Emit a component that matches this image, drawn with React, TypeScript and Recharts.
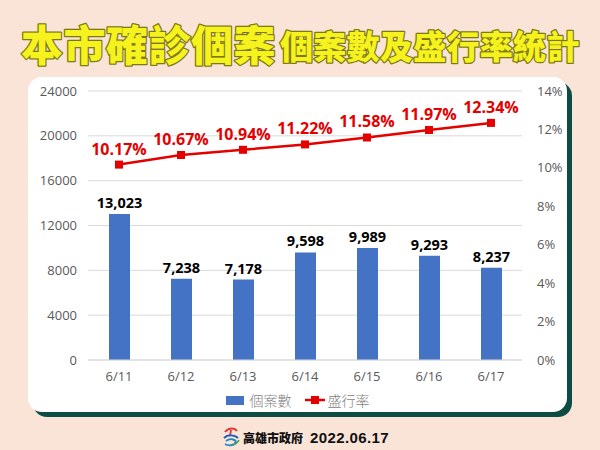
import {
  Bar,
  CartesianGrid,
  ComposedChart,
  LabelList,
  Legend,
  Line,
  XAxis,
  YAxis,
} from 'recharts'

const dates = ['6/11', '6/12', '6/13', '6/14', '6/15', '6/16', '6/17']
const cases = [13023, 7238, 7178, 9598, 9989, 9293, 8237]
const rates = [10.17, 10.67, 10.94, 11.22, 11.58, 11.97, 12.34]
const caseTicks = [0, 4000, 8000, 12000, 16000, 20000, 24000]
const rateTicks = [0, 2, 4, 6, 8, 10, 12, 14]

const data = dates.map((d, i) => ({ date: d, cases: cases[i], rate: rates[i] }))

const BLUE = '#4472C4'
const RED = '#E50000'
const TICK = { fill: '#595959', fontSize: 13, fontFamily: 'Open Sans' }

function SquareDot(props: any) {
  const { cx, cy, index } = props
  if (cx == null || cy == null) return null
  return <rect key={`dot-${index}`} x={cx - 4} y={cy - 4} width={8} height={8} fill={RED} />
}

function LegendBox() {
  const txt = { color: '#7f7f7f', fontSize: 14, fontFamily: 'Noto Sans CJK TC', fontWeight: 300 }
  return (
    <div style={{ display: 'flex', justifyContent: 'center', alignItems: 'center', height: 16, gap: 6 }}>
      <span style={{ display: 'inline-block', width: 18, height: 9, background: BLUE }} />
      <span style={txt}>個案數</span>
      <svg width={22} height={10} style={{ marginLeft: 6 }}>
        <line x1={1} y1={5} x2={21} y2={5} stroke={RED} strokeWidth={2.5} />
        <rect x={7} y={1} width={8} height={8} fill={RED} />
      </svg>
      <span style={{ ...txt, marginLeft: -4 }}>盛行率</span>
    </div>
  )
}

function Logo() {
  return (
    <svg width={18} height={20} viewBox="0 0 18 20">
      <path d="M3 5 C7 0, 13 1, 15 4" stroke="#E53935" strokeWidth={2} fill="none" />
      <path d="M9 3 L8 9" stroke="#E53935" strokeWidth={1.8} fill="none" />
      <path d="M2 11 C6 7, 13 8, 16 11" stroke="#1E5BB8" strokeWidth={2} fill="none" />
      <path d="M4 14 C8 11, 13 12, 14 15 C12 19, 6 19, 3 17" stroke="#1E88C8" strokeWidth={1.8} fill="none" />
      <path d="M11 18 C14 17, 16 15, 17 13" stroke="#43A047" strokeWidth={1.6} fill="none" />
    </svg>
  )
}

export default function App() {
  return (
    <div
      style={{
        position: 'absolute',
        left: 0,
        top: 0,
        width: 600,
        height: 450,
        background: '#FAE4D8',
        overflow: 'hidden',
      }}
    >
      <svg width={600} height={75} style={{ position: 'absolute', left: 0, top: 0 }}>
        <g
          fontFamily="Noto Sans CJK TC"
          fontWeight={900}
          fill="#F6F21E"
          stroke="#7C7812"
          strokeWidth={2.5}
          strokeLinejoin="round"
          style={{ paintOrder: 'stroke' }}
        >
          <text x={21} y={61} fontSize={42} letterSpacing={0.5}>
            本市確診個案
          </text>
          <text x={280} y={59} fontSize={33} letterSpacing={0.3}>
            個案數及盛行率統計
          </text>
        </g>
      </svg>

      <div
        style={{
          position: 'absolute',
          left: 28,
          top: 77,
          width: 539,
          height: 335,
          background: '#ffffff',
          borderRadius: 14,
          boxShadow: '5px 5px 0 #0C4C43',
        }}
      />

      <div style={{ position: 'absolute', left: 0, top: 0 }}>
        <ComposedChart
          width={600}
          height={450}
          data={data}
          margin={{ top: 91, right: 33, bottom: 42, left: 28 }}
          barCategoryGap={20}
        >
          <CartesianGrid stroke="#D9D9D9" vertical={false} yAxisId="cases" />
          <XAxis
            dataKey="date"
            tick={TICK}
            tickLine={false}
            axisLine={{ stroke: '#D9D9D9' }}
            height={32}
            tickMargin={6}
          />
          <YAxis
            yAxisId="cases"
            domain={[0, 24000]}
            ticks={caseTicks}
            tick={TICK}
            tickLine={false}
            axisLine={false}
            width={60}
            tickMargin={5}
          />
          <YAxis
            yAxisId="rate"
            orientation="right"
            domain={[0, 14]}
            ticks={rateTicks}
            tickFormatter={(v: number) => `${v}%`}
            tick={TICK}
            tickLine={false}
            axisLine={false}
            width={45}
            tickMargin={9}
          />
          <Bar yAxisId="cases" dataKey="cases" fill={BLUE} barSize={21} isAnimationActive={false}>
            <LabelList
              dataKey="cases"
              position="top"
              offset={6}
              formatter={(v: any) => Number(v).toLocaleString('en-US')}
              style={{ fill: '#000000', fontSize: 14.5, fontWeight: 700, fontFamily: 'Open Sans' }}
            />
          </Bar>
          <Line
            yAxisId="rate"
            dataKey="rate"
            stroke={RED}
            strokeWidth={2.5}
            dot={<SquareDot />}
            activeDot={false}
            isAnimationActive={false}
          >
            <LabelList
              dataKey="rate"
              position="top"
              offset={10}
              formatter={(v: any) => `${Number(v).toFixed(2)}%`}
              style={{ fill: RED, fontSize: 16, fontWeight: 700, fontFamily: 'Open Sans' }}
            />
          </Line>
          <Legend verticalAlign="bottom" height={16} content={() => <LegendBox />} />
        </ComposedChart>
      </div>

      <div
        style={{
          position: 'absolute',
          left: 222,
          top: 427,
          display: 'flex',
          alignItems: 'center',
          gap: 3,
          color: '#111111',
          fontWeight: 700,
        }}
      >
        <Logo />
        <span style={{ fontFamily: 'Noto Sans CJK TC', fontSize: 12, fontWeight: 900 }}>高雄市政府</span>
        <span style={{ fontFamily: 'Liberation Sans', fontSize: 15, marginLeft: 4, letterSpacing: 0.4 }}>
          2022.06.17
        </span>
      </div>
    </div>
  )
}
